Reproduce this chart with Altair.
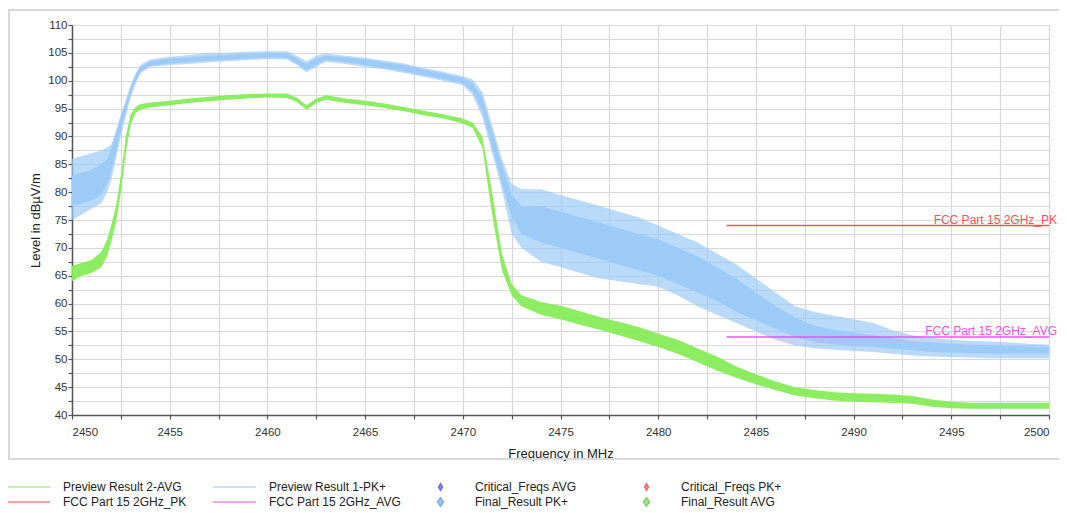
import altair as alt
import pandas as pd

# ---------------- data ----------------
freq = [2450.0, 2450.5, 2451.0, 2451.5, 2451.8, 2452.0, 2452.25, 2452.5, 2452.75,
        2453.0, 2453.25, 2453.5, 2454.0, 2455.0, 2456.0, 2457.0, 2458.0, 2459.0,
        2460.0, 2461.0, 2461.5, 2462.0, 2462.5, 2463.0, 2464.0, 2465.0, 2466.0,
        2467.0, 2468.0, 2469.0, 2470.0, 2470.5, 2471.0, 2471.5, 2472.0, 2472.5,
        2473.0, 2474.0, 2475.0, 2476.0, 2477.0, 2478.0, 2479.0, 2480.0, 2481.0,
        2482.0, 2483.0, 2484.0, 2485.0, 2486.0, 2487.0, 2488.0, 2489.0, 2490.0,
        2491.0, 2492.0, 2493.0, 2494.0, 2495.0, 2496.0, 2497.0, 2498.0, 2499.0, 2500.0]

# Preview Result 1-PK+ : outer (spike) envelope
pk_lo = [75, 76, 77, 78, 80, 82, 86, 90, 93.5,
         97, 99.5, 101.3, 102.5, 102.8, 103, 103.3, 103.5, 103.7,
         103.9, 103.8, 102.8, 101.5, 102.5, 103.4, 103, 102.5, 102,
         101.4, 100.7, 100, 99.2, 97.5, 93.5, 87, 80.5, 72.5,
         70, 67.5, 66.5, 65.5, 64.5, 64, 63.5, 63, 61.5,
         59.5, 58, 56.5, 55, 53.5, 52.5, 52, 51.7, 51.5,
         51.3, 51, 50.7, 50.5, 50.4, 50.3, 50.2, 50.2, 50.2, 50.2]
pk_hi = [86, 86.5, 87, 87.5, 88, 88.5, 91, 94, 96.5,
         99.2, 101.3, 102.8, 103.8, 104.3, 104.6, 105, 105, 105.2,
         105.3, 105.3, 104.5, 103.5, 104.5, 104.9, 104.5, 104.1, 103.6,
         103.1, 102.3, 101.6, 100.8, 100.2, 98, 92, 86, 81.5,
         80.5, 80.5, 79.5, 78.5, 77.5, 76.5, 75.5, 74, 72.5,
         71, 69, 67, 64.5, 62, 59.5, 58.5, 57.8, 57.2,
         56.5, 55.2, 54.3, 53.8, 53.5, 53.3, 53.2, 53, 52.8, 52.6]
# Preview Result 1-PK+ : dense core of the trace
pk_core_lo = [77.5, 78, 78.5, 79.5, 81.5, 83.5, 87, 91, 94.5,
              97.5, 99.8, 101.6, 102.7, 103.1, 103.3, 103.6, 103.8, 104,
              104.2, 104.1, 103.1, 101.9, 102.9, 103.7, 103.3, 102.8, 102.3,
              101.7, 101, 100.3, 99.5, 98, 94.5, 88, 81.5, 75.5,
              72.5, 71, 70, 69, 68, 67, 66, 65, 63.5,
              62, 60.5, 58.5, 57, 55.5, 54, 53, 52.7, 52.4,
              52.2, 51.9, 51.6, 51.3, 51.2, 51.1, 51, 51, 51, 51]
pk_core_hi = [83, 83.5, 84, 85, 86, 87.5, 90.5, 93.5, 96,
              98.8, 101, 102.5, 103.5, 104, 104.2, 104.5, 104.6, 104.8,
              105, 104.9, 104, 103, 104, 104.5, 104.2, 103.8, 103.3,
              102.8, 102, 101.3, 100.5, 99.6, 97, 91, 85, 79.5,
              77.5, 77.5, 76.5, 75.5, 74.5, 73.5, 72.5, 71.5, 70,
              68.5, 66.5, 64.5, 62, 59.5, 57.5, 56, 55.3, 54.8,
              54.3, 53.8, 53.3, 53, 52.8, 52.6, 52.5, 52.4, 52.3, 52.2]

# Preview Result 2-AVG envelope
avg_lo = [64, 65, 65.5, 66.5, 68.5, 71, 74.5, 80, 87,
          92, 94.2, 94.8, 95.2, 95.6, 96, 96.3, 96.6, 96.8,
          97, 96.9, 96.2, 94.8, 96, 96.6, 96, 95.6, 95.1,
          94.5, 93.8, 93.2, 92.3, 91.5, 88, 76, 66, 61.5,
          59.5, 58, 57.2, 56.2, 55.3, 54.3, 53.3, 52.2, 51,
          49.5, 48, 46.7, 45.5, 44.5, 43.5, 43, 42.6, 42.4,
          42.3, 42.2, 42, 41.5, 41.2, 41.1, 41.1, 41.1, 41.1, 41.1]
avg_hi = [66.8, 67.3, 67.8, 69.3, 71.5, 74, 77.5, 83, 90,
          94, 95.3, 95.8, 96.1, 96.4, 96.8, 97.1, 97.4, 97.6,
          97.7, 97.7, 97, 95.6, 96.8, 97.4, 96.8, 96.4, 95.9,
          95.3, 94.6, 94, 93.2, 92.5, 90, 80, 69, 63.5,
          61.5, 60.3, 59.6, 58.6, 57.6, 56.7, 55.8, 54.6, 53.5,
          52, 50.5, 48.7, 47.3, 46, 45, 44.5, 44.1, 43.9,
          43.8, 43.7, 43.4, 42.8, 42.4, 42.2, 42.2, 42.2, 42.2, 42.2]

# limit lines
limit_names = ["FCC Part 15 2GHz_PK", "FCC Part 15 2GHz_AVG"]
limit_start = [2483.5, 2483.5]
limit_end = [2500.0, 2500.0]
limit_level = [74.0, 54.0]

# legend entries (listed column by column: the legend fills its 4 columns top-down)
legend_names = ["Preview Result 2-AVG", "FCC Part 15 2GHz_PK",
                "Preview Result 1-PK+", "FCC Part 15 2GHz_AVG",
                "Critical_Freqs AVG", "Final_Result PK+",
                "Critical_Freqs PK+", "Final_Result AVG"]

# axis ticks
x_ticks = [2450, 2452.5, 2455, 2457.5, 2460, 2462.5, 2465, 2467.5, 2470, 2472.5, 2475,
           2477.5, 2480, 2482.5, 2485, 2487.5, 2490, 2492.5, 2495, 2497.5, 2500]
y_ticks = [40, 42.5, 45, 47.5, 50, 52.5, 55, 57.5, 60, 62.5, 65, 67.5, 70, 72.5, 75,
           77.5, 80, 82.5, 85, 87.5, 90, 92.5, 95, 97.5, 100, 102.5, 105, 107.5, 110]

# ---------------- styling ----------------
GREEN = "#86ec58"
BLUE = "#9ccbf8"
RED = "#f05656"
MAGENTA = "#f050f0"
LINE = "M-1,0L1,0"
DIA_S = "M0,-0.15L0.09,0L0,0.15L-0.09,0Z"
DIA_L = "M0,-0.2L0.14,0L0,0.2L-0.14,0Z"
legend_colors = [GREEN, RED, BLUE, MAGENTA, "#2a2ae0", "#3c8ee0", "#f02a2a", "#4cc02c"]
legend_shapes = [LINE, LINE, LINE, LINE, DIA_S, DIA_L, DIA_S, DIA_L]
FONT = "Liberation Sans"

W, H = 977, 390

trace = pd.DataFrame({"f": freq, "pk_lo": pk_lo, "pk_hi": pk_hi,
                      "pk_core_lo": pk_core_lo, "pk_core_hi": pk_core_hi,
                      "avg_lo": avg_lo, "avg_hi": avg_hi})
limits = pd.DataFrame({"name": limit_names, "start": limit_start,
                       "end": limit_end, "level": limit_level})
leg_df = pd.DataFrame({"series": legend_names, "f": [None] * 8, "lvl": [None] * 8})

xscale = alt.Scale(domain=[2450, 2500], nice=False, zero=False)
yscale = alt.Scale(domain=[40, 110], nice=False, zero=False)
label_expr = "datum.value % 5 == 0 ? datum.label : ''"

x_axis = alt.Axis(values=x_ticks, format="d", labelExpr=label_expr, title="Frequency in MHz",
                  grid=True, titleX=W / 2, titleY=38, titleBaseline="middle",
                  labelPadding=7, labelBaseline="top", labelOverlap=False)
y_axis = alt.Axis(values=y_ticks, format="d", labelExpr=label_expr, title="Level in dBµV/m",
                  grid=True, titleX=-37, titleY=H / 2, titleBaseline="middle", titleAngle=-90,
                  labelPadding=1, labelOverlap=False)


def X(field):
    return alt.X(field, type="quantitative", scale=xscale, axis=x_axis)


def Y(field):
    return alt.Y(field, type="quantitative", scale=yscale, axis=y_axis)


base = alt.Chart(trace)

avg_area = base.mark_area(color=GREEN, opacity=0.95).encode(
    x=X("f"), y=Y("avg_lo"), y2="avg_hi")
pk_outer = base.mark_area(color=BLUE, opacity=0.7).encode(
    x=X("f"), y=Y("pk_lo"), y2="pk_hi")
pk_core = base.mark_area(color=BLUE, opacity=1.0).encode(
    x=X("f"), y=Y("pk_core_lo"), y2="pk_core_hi")

limit_layers = []
for name, col in zip(limit_names, [RED, MAGENTA]):
    src = alt.Chart(limits).transform_filter(alt.datum.name == name)
    limit_layers.append(src.mark_rule(color=col, strokeWidth=1.5).encode(
        x=X("start"), x2="end", y=Y("level")))
    limit_layers.append(src.mark_text(color=col, align="right", baseline="alphabetic",
                                      dx=8, dy=-2, fontSize=12, font=FONT).encode(
        x=X("end"), y=Y("level"), text="name:N"))

leg = alt.Legend(orient="none", legendX=-66, legendY=454.5, columns=4, clipHeight=15,
                 rowPadding=0, columnPadding=17, gridAlign="all", title=None,
                 labelFont=FONT, labelFontSize=12, labelColor="#222", labelOffset=12,
                 symbolSize=1849, symbolStrokeWidth=1.5, symbolOffset=0, padding=0,
                 labelLimit=300)
legend_layer = alt.Chart(leg_df).mark_point(filled=True, size=1849).encode(
    x=X("f"),
    y=Y("lvl"),
    fill=alt.Fill("series:N", scale=alt.Scale(domain=legend_names, range=legend_colors), legend=leg),
    stroke=alt.Stroke("series:N", scale=alt.Scale(domain=legend_names, range=legend_colors), legend=leg),
    shape=alt.Shape("series:N", scale=alt.Scale(domain=legend_names, range=legend_shapes), legend=leg),
)

frame = alt.Chart(pd.DataFrame({"a": [0]})).mark_rect(
    fill="transparent", stroke="#d9d9d9", strokeWidth=2).encode(
    x=alt.value(-63), x2=alt.value(1300), y=alt.value(-15), y2=alt.value(434))

chart = alt.layer(frame, avg_area, pk_outer, pk_core, *limit_layers, legend_layer).properties(
    width=W, height=H,
    autosize=alt.AutoSizeParams(type="none"),
    padding={"left": 64, "top": 17, "right": 10, "bottom": 96},
    background="white",
).configure_axis(
    gridColor="#d8d8d8", gridWidth=1.2,
    domainColor="#555", domainWidth=1.5,
    tickColor="#555", tickWidth=1.2, tickSize=4,
    labelFont=FONT, labelFontSize=11.5, labelColor="#333",
    titleFont=FONT, titleFontSize=13, titleFontWeight="normal", titleColor="#222",
).configure_view(stroke="#d8d8d8")

chart.save("out.html", embed_options={"renderer": "svg", "actions": False})
